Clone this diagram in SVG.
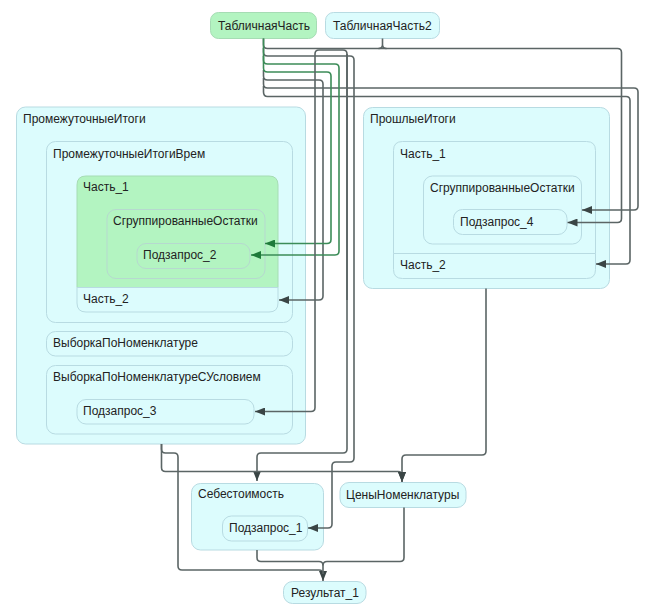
<svg xmlns="http://www.w3.org/2000/svg" width="646" height="612" viewBox="0 0 646 612">
<defs>
<marker id="ad" viewBox="0 0 10 8" refX="10" refY="4" markerWidth="10" markerHeight="8" markerUnits="userSpaceOnUse" orient="auto">
<path d="M0,0 L10,4 L0,8 Z" fill="#3a4545"/>
</marker>
<marker id="ag" viewBox="0 0 10 8" refX="10" refY="4" markerWidth="10" markerHeight="8" markerUnits="userSpaceOnUse" orient="auto">
<path d="M0,0 L10,4 L0,8 Z" fill="#1e7a3a"/>
</marker>
<style>
.n{fill:#dcfcfd;stroke:#b8dbe2;stroke-width:1}
.g{fill:#b3f4c1;stroke:#a6dcb4;stroke-width:1}
.t{font-family:"Liberation Sans",Arial,sans-serif;font-size:12px;fill:#222}
.e{fill:none;stroke:#5b6565;stroke-width:1.6}
.eg{fill:none;stroke:#3c8c58;stroke-width:1.6}
.m{marker-end:url(#ad)}
.mg{marker-end:url(#ag)}
</style>
</defs>
<rect width="646" height="612" fill="#ffffff"/>

<g id="ТабличнаяЧасть"><rect class="g" x="210.5" y="12.5" width="106" height="26" rx="8"/><text class="t" x="218" y="29.5">ТабличнаяЧасть</text></g>
<g id="ТабличнаяЧасть2"><rect class="n" x="325.5" y="12.5" width="114" height="26" rx="8"/><text class="t" x="333" y="29.5">ТабличнаяЧасть2</text></g>

<g id="ПромежуточныеИтоги"><rect class="n" x="16.5" y="107" width="289" height="337" rx="9"/><text class="t" x="23" y="123">ПромежуточныеИтоги</text></g>
<g id="ПромежуточныеИтогиВрем"><rect class="n" x="46.5" y="141.5" width="246" height="181" rx="9"/><text class="t" x="53" y="158">ПромежуточныеИтогиВрем</text></g>
<g id="Часть_1_left"><path class="g" d="M77,287.5 V185 Q77,176 86,176 H269 Q278,176 278,185 V287.5 Z"/><text class="t" x="83" y="191">Часть_1</text></g>
<g id="Часть_2_left"><path class="n" d="M77,287.5 H278 V303 Q278,312 269,312 H86 Q77,312 77,303 Z"/><text class="t" x="83" y="303">Часть_2</text></g>
<g id="СгруппированныеОстатки_left"><rect class="g" x="107" y="209.5" width="158" height="69" rx="9" style="stroke:#b6d9cf"/><text class="t" x="113" y="225">СгруппированныеОстатки</text></g>
<g id="Подзапрос_2"><rect class="g" x="137" y="243.5" width="113" height="25" rx="9" style="stroke:#b6d9cf"/><text class="t" x="143" y="259">Подзапрос_2</text></g>
<g id="ВыборкаПоНоменклатуре"><rect class="n" x="46.5" y="331.5" width="246" height="24.5" rx="9"/><text class="t" x="53" y="347">ВыборкаПоНоменклатуре</text></g>
<g id="ВыборкаПоНоменклатуреСУсловием"><rect class="n" x="46.5" y="365.5" width="246" height="68.5" rx="9"/><text class="t" x="53" y="381">ВыборкаПоНоменклатуреСУсловием</text></g>
<g id="Подзапрос_3"><rect class="n" x="77" y="399.5" width="177" height="24.5" rx="9"/><text class="t" x="83" y="415">Подзапрос_3</text></g>

<g id="ПрошлыеИтоги"><rect class="n" x="363.5" y="107.5" width="246" height="181" rx="9"/><text class="t" x="370" y="123">ПрошлыеИтоги</text></g>
<g id="Часть_1_right"><path class="n" d="M393.5,253.5 V150.5 Q393.5,141.5 402.5,141.5 H586.5 Q595.5,141.5 595.5,150.5 V253.5 Z"/><text class="t" x="400" y="157.5">Часть_1</text></g>
<g id="Часть_2_right"><path class="n" d="M393.5,253.5 H595.5 V269.5 Q595.5,278.5 586.5,278.5 H402.5 Q393.5,278.5 393.5,269.5 Z"/><text class="t" x="400" y="269">Часть_2</text></g>
<g id="СгруппированныеОстатки_right"><rect class="n" x="423.5" y="176" width="158" height="68" rx="9"/><text class="t" x="430" y="192">СгруппированныеОстатки</text></g>
<g id="Подзапрос_4"><rect class="n" x="453.5" y="209.5" width="113.5" height="25" rx="9"/><text class="t" x="460" y="226">Подзапрос_4</text></g>

<g id="Себестоимость"><rect class="n" x="191.5" y="483.5" width="132" height="66.5" rx="9"/><text class="t" x="198" y="498">Себестоимость</text></g>
<g id="Подзапрос_1"><rect class="n" x="222.5" y="516" width="85" height="25" rx="9"/><text class="t" x="229" y="532">Подзапрос_1</text></g>
<g id="ЦеныНоменклатуры"><rect class="n" x="340" y="482.5" width="126" height="25" rx="9"/><text class="t" x="346" y="499">ЦеныНоменклатуры</text></g>
<g id="Результат_1"><rect class="n" x="283.5" y="581.5" width="82.5" height="22" rx="9"/><text class="t" x="291" y="596.5">Результат_1</text></g>

<g id="connectors">
<path class="e m" d="M263.5,38.5 V44.5 Q263.5,48.5 267.5,48.5 H617.5 Q621.5,48.5 621.5,52.5 V218.5 Q621.5,222.5 617.5,222.5 H567.5"/>
<path class="e" d="M382.5,38.5 V44.5 Q382.5,48.5 378.5,48.5 M382.5,44.5 Q382.5,48.5 386.5,48.5"/>
<path class="e m" d="M263.5,48 V52 Q263.5,56 267.5,56 H350 Q354,56 354,60 V458 Q354,462 350,462 H336 Q332,462 332,466 V524 Q332,528 328,528 H308"/>
<path class="e m" d="M263.5,70 V76 Q263.5,80 267.5,80 H319 Q323,80 323,84 V296 Q323,300 319,300 H279"/>
<path class="e m" d="M263.5,78 V84 Q263.5,88 267.5,88 H634 Q638,88 638,92 V206 Q638,210 634,210 H582"/>
<path class="e m" d="M263.5,86 V92 Q263.5,96.5 267.5,96.5 H626 Q630,96.5 630,100.5 V260 Q630,264 626,264 H596"/>
<path class="eg mg" d="M263.5,38.5 V60 Q263.5,64 267.5,64 H335 Q339,64 339,68 V251 Q339,255 335,255 H251"/>
<path class="eg mg" d="M263.5,56 V68 Q263.5,72 267.5,72 H327 Q331,72 331,76 V239.5 Q331,243.5 327,243.5 H265"/>
<path class="e m" d="M347,300 V54 Q347,50 343,50 H319 Q315,50 315,54 V407.5 Q315,411.5 311,411.5 H255"/>
<path class="e m" d="M347,54 V449 Q347,453 343,453 H261 Q257,453 257,457 V481"/>
<path class="e m" d="M161.5,444 V449 Q161.5,453 165.5,453 H174 Q178,453 178,457 V566 Q178,570 182,570 H319 Q323,570 323,574 V581"/>
<path class="e m" d="M161.5,444 V467.5 Q161.5,471.5 165.5,471.5 H398 Q402,471.5 402,475.5 V482"/>
<path class="e m" d="M486,288.5 V451 Q486,455 482,455 H406 Q402,455 402,459 V482"/>
<path class="e" d="M257,550 V557.5 Q257,561.5 261,561.5 H319 Q323,561.5 323,565.5 V574"/>
<path class="e" d="M404,507.5 V557.5 Q404,561.5 400,561.5 H327 Q323,561.5 323,565.5"/>
</g>
</svg>
